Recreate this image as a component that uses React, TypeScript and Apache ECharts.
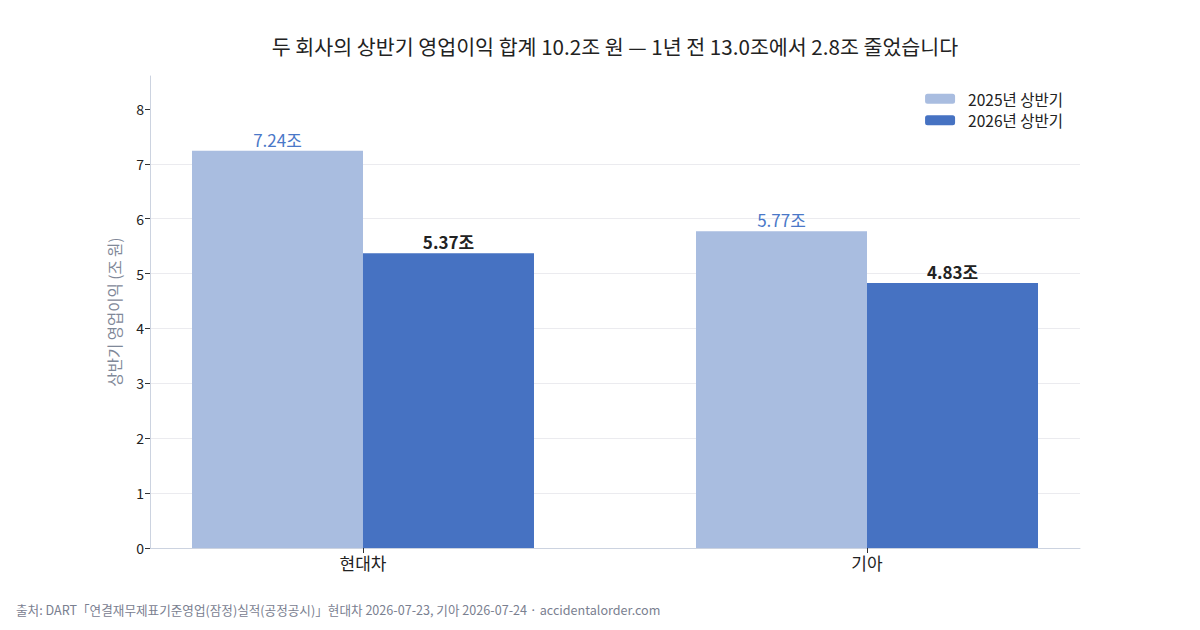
import React, { useEffect, useRef } from "react";
import * as echarts from "echarts";

const categories = ["현대차", "기아"];
const seriesNames = ["2025년 상반기", "2026년 상반기"];
const values2025 = [7.24, 5.77];
const values2026 = [5.37, 4.83];
const yTicks = [0, 1, 2, 3, 4, 5, 6, 7, 8];
const xPositions = [0, 1];

const FONT = "'Noto Sans CJK KR', 'Noto Sans', sans-serif";

export default function App() {
  const ref = useRef<HTMLDivElement>(null);
  useEffect(() => {
    if (!ref.current) return;
    const chart = echarts.init(ref.current, undefined, { renderer: "svg" });
    const labelFmt = (p: any) => `${p.value[1].toFixed(2)}조`;
    chart.setOption({
      animation: false,
      backgroundColor: "#ffffff",
      textStyle: { fontFamily: FONT },
      legend: {
        orient: "vertical",
        right: 132,
        top: 86,
        itemWidth: 30,
        itemHeight: 10,
        itemGap: 6,
        textStyle: { fontFamily: FONT, fontSize: 15.5, color: "#222222", padding: [0, 0, 0, 8] },
        data: seriesNames,
      },
      grid: { left: 150, right: 120, top: 76, bottom: 82, containLabel: false },
      xAxis: {
        type: "value",
        min: -0.4226,
        max: 1.4226,
        axisLine: { show: true, onZero: false, lineStyle: { color: "#ccd3e0" } },
        axisTick: { show: true, customValues: xPositions, lineStyle: { color: "#333" }, length: 5 },
        axisLabel: {
          customValues: xPositions,
          formatter: (v: number) => categories[Math.round(v)] ?? "",
          fontFamily: FONT,
          fontSize: 17,
          color: "#222222",
          margin: 6,
        },
        splitLine: { show: false },
      },
      yAxis: {
        type: "value",
        min: 0,
        max: 8.6,
        interval: 1,
        name: "상반기 영업이익 (조 원)",
        nameLocation: "middle",
        nameGap: 28,
        nameTextStyle: { fontFamily: FONT, fontSize: 15.5, color: "#7f8898" },
        axisLine: { show: true, onZero: false, lineStyle: { color: "#ccd3e0" } },
        axisTick: { show: true, customValues: yTicks, length: 5, lineStyle: { color: "#333" } },
        axisLabel: { customValues: yTicks, fontFamily: FONT, fontSize: 14, color: "#222222", margin: 6 },
        splitLine: { showMaxLine: false, showMinLine: false, lineStyle: { color: "#ebebef" } },
      },
      series: [
        {
          name: seriesNames[0],
          type: "bar",
          data: xPositions.map((x, i) => [x, values2025[i]]),
          barGap: "0%",
          barWidth: 171,
          itemStyle: { color: "#a9bde0" },
          label: {
            show: true,
            position: "top",
            formatter: labelFmt,
            fontFamily: FONT,
            fontSize: 17,
            color: "#4a78c8",
            distance: 3,
          },
        },
        {
          name: seriesNames[1],
          type: "bar",
          data: xPositions.map((x, i) => [x, values2026[i]]),
          barGap: "0%",
          barWidth: 171,
          itemStyle: { color: "#4672c2" },
          label: {
            show: true,
            position: "top",
            formatter: labelFmt,
            fontFamily: FONT,
            fontSize: 17,
            fontWeight: "bold",
            color: "#222222",
            distance: 3,
          },
        },
      ],
      graphic: [
        {
          type: "text",
          x: 615,
          y: 46,
          style: {
            text: "두 회사의 상반기 영업이익 합계 10.2조 원 — 1년 전 13.0조에서 2.8조 줄었습니다",
            fontFamily: FONT,
            fontSize: 20.6,
            fill: "#222222",
            textAlign: "center",
            textVerticalAlign: "middle",
          },
        },
        {
          type: "text",
          left: 16,
          top: 603,
          style: {
            text: "출처: DART「연결재무제표기준영업(잠정)실적(공정공시)」현대차 2026-07-23, 기아 2026-07-24 · accidentalorder.com",
            fontFamily: FONT,
            fontSize: 12.6,
            fill: "#7a8090",
          },
        },
      ],
    });
    return () => chart.dispose();
  }, []);
  return <div ref={ref} style={{ position: "fixed", left: 0, top: 0, width: 1200, height: 630 }} />;
}
